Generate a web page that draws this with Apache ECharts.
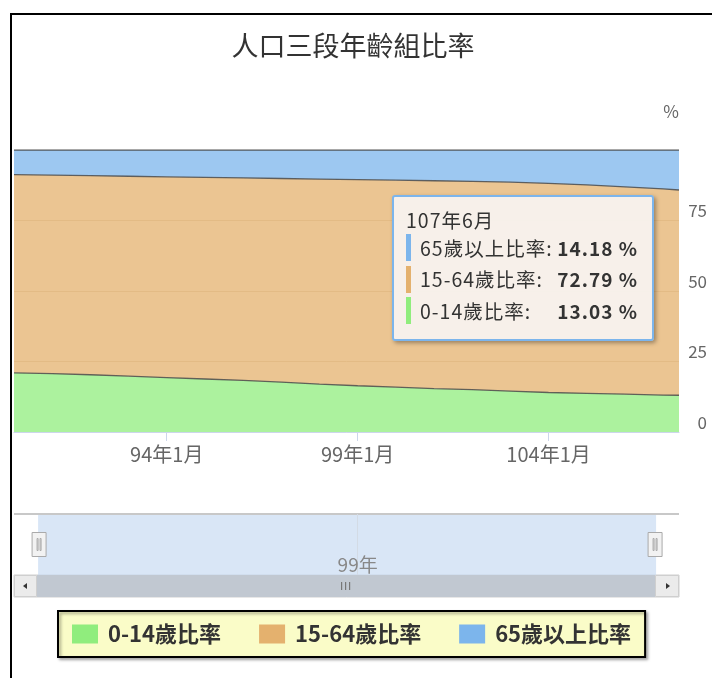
<!DOCTYPE html>
<html>
<head>
<meta charset="utf-8">
<script src="https://cdn.jsdelivr.net/npm/echarts@6/dist/echarts.min.js"></script>
<style>
  html, body { margin: 0; padding: 0; background: #fff; }
  #chart { position: absolute; left: 0; top: 0; width: 712px; height: 678px; }
  #frame { position: absolute; left: 10px; top: 13px; right: 0; bottom: 0;
           border-left: 2px solid #000; border-top: 2px solid #000; pointer-events: none; }
</style>
</head>
<body>
<div id="chart"></div>
<div id="frame"></div>
<script>
// Population share by age group (%), ROC calendar periods
const periods = ['90年1月','91年1月','92年1月','93年1月','94年1月','95年1月','96年1月','97年1月','98年1月',
                 '99年1月','100年1月','101年1月','102年1月','103年1月','104年1月','105年1月','106年1月','107年1月','107年6月'];
const age0to14  = [21.0, 20.7, 20.3, 19.8, 19.3, 18.8, 18.3, 17.7, 17.0, 16.4, 15.9, 15.4, 15.0, 14.5, 14.0, 13.7, 13.4, 13.1, 13.03];
const age15to64 = [70.3, 70.4, 70.6, 70.9, 71.2, 71.5, 71.8, 72.2, 72.7, 73.1, 73.4, 73.7, 73.9, 74.1, 74.2, 73.9, 73.5, 73.1, 72.79];
const age65plus = [8.7, 8.9, 9.1, 9.3, 9.5, 9.7, 9.9, 10.1, 10.3, 10.5, 10.7, 10.9, 11.1, 11.4, 11.8, 12.4, 13.1, 13.8, 14.18];

const seriesNames  = ['0-14歲比率', '15-64歲比率', '65歲以上比率'];
const seriesColors = ['#90ed7d', '#e4b16e', '#7cb5ec'];
const xTickLabels  = ['94年1月', '99年1月', '104年1月'];
const navTickLabels = ['99年'];
const titleText = '人口三段年齡組比率';
const unitText = '%';
const FONT = '"Noto Sans CJK TC", "Noto Sans", sans-serif';

// ROC period label -> months since the first period
const baseYear = parseInt(periods[0], 10);
function monthIndex(label) {
  const m = label.match(/^(\d+)年(?:(\d+)月)?/);
  return (parseInt(m[1], 10) - baseYear) * 12 + (m[2] ? parseInt(m[2], 10) - 1 : 0);
}
function monthLabel(v) {
  return (baseYear + Math.floor(v / 12)) + '年' + (v % 12 + 1) + '月';
}
const xs = periods.map(monthIndex);
const xMax = xs[xs.length - 1];
const xTickValues = xTickLabels.map(monthIndex);
const navTickValue = monthIndex(navTickLabels[0]);

// value first, month second: the stacked dimension is the first numeric one
const valueSets = [age0to14, age15to64, age65plus];
const series = valueSets.map((vals, i) => ({
  name: seriesNames[i],
  type: 'line',
  stack: 'total',
  data: vals.map((v, k) => [v, xs[k]]),
  encode: { x: 1, y: 0 },
  showSymbol: false,
  symbol: 'none',
  color: seriesColors[i],
  itemStyle: { color: seriesColors[i] },
  lineStyle: { color: '#4a4a4a', width: 1.3, opacity: 0.85 },
  areaStyle: { color: seriesColors[i], opacity: 0.75 },
  emphasis: { disabled: true },
  xAxisIndex: 0, yAxisIndex: 0
}));

const chart = echarts.init(document.getElementById('chart'), null, { renderer: 'canvas' });

const option = {
  animation: false,
  backgroundColor: 'transparent',
  textStyle: { fontFamily: FONT },
  title: {
    text: titleText, left: 348, top: 27, textAlign: 'center',
    textStyle: { fontSize: 27, fontWeight: 'normal', color: '#333', fontFamily: FONT }
  },
  grid: [
    { left: 14, right: 33, top: 150, bottom: 246 },
    { left: 14, right: 33, top: 514, height: 61 }
  ],
  xAxis: [
    {
      gridIndex: 0, type: 'value', min: 0, max: xMax,
      axisLine: { lineStyle: { color: '#ccd6eb', width: 1 } },
      axisTick: { show: true, length: 9, customValues: xTickValues, lineStyle: { color: '#ccd6eb' } },
      axisLabel: { customValues: xTickValues, formatter: monthLabel, color: '#666',
                   fontSize: 20, margin: 12, fontFamily: FONT },
      splitLine: { show: false }
    },
    {
      gridIndex: 1, type: 'value', min: 0, max: xMax, interval: navTickValue, z: 10,
      axisLine: { show: false }, axisTick: { show: false },
      axisLabel: { inside: true, margin: 1, color: '#888', fontSize: 19, showMinLabel: false, showMaxLabel: false,
                   formatter: v => (baseYear + Math.floor(v / 12)) + '年', fontFamily: FONT },
      splitLine: { show: true, showMinLine: false, showMaxLine: false, lineStyle: { color: '#d3dbe5' } }
    }
  ],
  yAxis: [
    {
      gridIndex: 0, type: 'value', position: 'right', min: 0, max: 100, interval: 25,
      axisLine: { show: false }, axisTick: { show: false },
      axisLabel: { showMaxLabel: false, color: '#666', fontSize: 17, align: 'right', margin: 28,
                   verticalAlign: 'bottom', padding: [0, 0, 1, 0], fontFamily: FONT },
      splitLine: { lineStyle: { color: '#e0d8cc' } }
    },
    { gridIndex: 1, type: 'value', min: 0, max: 1, show: false }
  ],
  dataZoom: [{
    type: 'slider', xAxisIndex: 0, filterMode: 'none',
    left: 37, right: 57, top: 514, height: 61,
    start: 0, end: 100,
    showDetail: false, showDataShadow: false, brushSelect: false,
    backgroundColor: 'rgba(0,0,0,0)', borderColor: 'rgba(0,0,0,0)',
    fillerColor: 'rgba(196,217,241,0.65)',
    handleIcon: 'path://M0,0 H14 V24 H0 Z M5,6 H6 V18 H5 Z M8,6 H9 V18 H8 Z',
    handleSize: 24,
    handleStyle: { color: '#f2f2f2', borderColor: '#aaa', borderWidth: 1 },
    moveHandleSize: 0,
    emphasis: { handleStyle: { color: '#f2f2f2', borderColor: '#aaa' } }
  }],
  legend: {
    data: seriesNames,
    left: 58, top: 611,
    icon: 'rect', itemWidth: 26, itemHeight: 19, itemGap: 38,
    padding: [12, 14, 12, 14],
    backgroundColor: '#fafcc8',
    borderColor: '#000', borderWidth: 2,
    shadowColor: 'rgba(0,0,0,0.35)', shadowBlur: 3, shadowOffsetX: 2, shadowOffsetY: 2,
    itemStyle: { borderWidth: 0 },
    textStyle: { fontSize: 22, fontWeight: 'bold', color: '#333', fontFamily: FONT, padding: [0, 0, 0, 5] },
    selectedMode: false
  },
  tooltip: {
    trigger: 'axis',
    axisPointer: { type: 'none' },
    alwaysShowContent: true,
    transitionDuration: 0,
    position: [392, 195],
    backgroundColor: 'rgba(247,242,236,0.97)',
    borderColor: '#7cb5ec', borderWidth: 2, borderRadius: 3,
    padding: [10, 14, 12, 12],
    extraCssText: 'box-shadow: 2px 2px 4px rgba(0,0,0,0.35);',
    textStyle: { fontFamily: FONT, fontSize: 20, color: '#333' },
    formatter: function (params) {
      const idx = params[0].dataIndex;
      let html = '<div style="width:232px;font-family:' + FONT.replace(/"/g, "'") +
                 ';font-size:19.5px;letter-spacing:1px;color:#333;">';
      html += '<div style="height:25px;line-height:25px;">' + periods[idx] + '</div>';
      params.slice().reverse().forEach(p => {
        html += '<div style="display:flex;align-items:center;height:31.5px;">' +
          '<span style="display:inline-block;width:5px;height:27px;background:' + seriesColors[p.seriesIndex] + ';margin-right:9px;"></span>' +
          '<span style="flex:1;white-space:nowrap;">' + p.seriesName + ':</span>' +
          '<b style="font-size:19px;white-space:nowrap;">' + valueSets[p.seriesIndex][idx].toFixed(2) + ' %</b></div>';
      });
      return html + '</div>';
    }
  },
  graphic: [
    // unit label above the value axis
    { type: 'text', x: 671, y: 112, style: { text: unitText, fill: '#666', font: '17px ' + FONT, align: 'center', verticalAlign: 'middle' } },
    // navigator top rule
    { type: 'line', shape: { x1: 14, y1: 514, x2: 679, y2: 514 }, style: { stroke: '#c8c8c8', lineWidth: 2 }, z: 5 },
    // scrollbar: track, thumb, grip and arrow buttons
    { type: 'rect', shape: { x: 14, y: 575, width: 665, height: 22 }, style: { fill: '#f2f2f2', stroke: '#cfcfcf', lineWidth: 1 }, z: 1 },
    { type: 'rect', shape: { x: 37, y: 575, width: 618, height: 22 }, style: { fill: '#c1c8d1' }, z: 2 },
    { type: 'rect', shape: { x: 341, y: 582, width: 1.2, height: 8 }, style: { fill: '#777' }, z: 3 },
    { type: 'rect', shape: { x: 345, y: 582, width: 1.2, height: 8 }, style: { fill: '#777' }, z: 3 },
    { type: 'rect', shape: { x: 349, y: 582, width: 1.2, height: 8 }, style: { fill: '#777' }, z: 3 },
    { type: 'rect', shape: { x: 14.5, y: 575.5, width: 22, height: 21 }, style: { fill: '#ebebeb', stroke: '#cfcfcf', lineWidth: 1 }, z: 6 },
    { type: 'rect', shape: { x: 655.5, y: 575.5, width: 23, height: 21 }, style: { fill: '#ebebeb', stroke: '#cfcfcf', lineWidth: 1 }, z: 6 },
    { type: 'polygon', shape: { points: [[23, 586], [27, 583], [27, 589]] }, style: { fill: '#333' }, z: 7 },
    { type: 'polygon', shape: { points: [[670, 586], [666, 583], [666, 589]] }, style: { fill: '#333' }, z: 7 }
  ],
  series: series
};

chart.setOption(option);
chart.dispatchAction({ type: 'showTip', seriesIndex: 0, dataIndex: periods.length - 1 });
</script>
</body>
</html>
